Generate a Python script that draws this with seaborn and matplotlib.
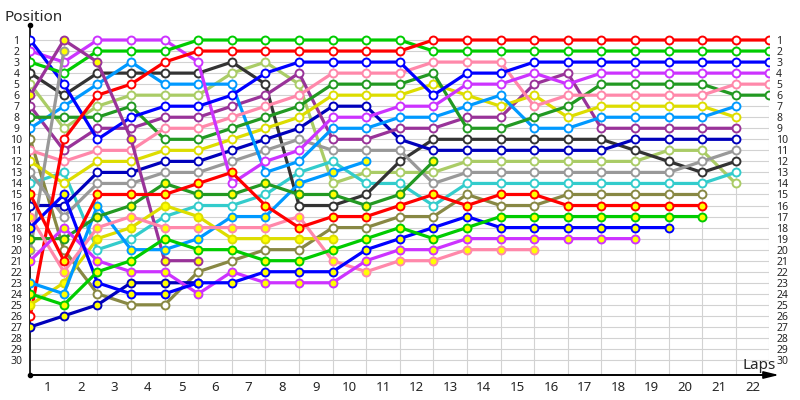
import matplotlib
matplotlib.use("Agg")
import matplotlib.pyplot as plt
import seaborn as sns
import pandas as pd

# ---- data: race position at lap 0 (grid) ... last lap completed ----
red_w     = [26,10,6,5,3,2,2,2,2,2,2,2,1,1,1,1,1,1,1,1,1,1,1]
green_w   = [3,4,2,2,2,1,1,1,1,1,1,1,2,2,2,2,2,2,2,2,2,2,2]
blue_w    = [1,5,10,8,7,7,6,4,3,3,3,3,6,4,4,3,3,3,3,3,3,3,3]
violet_w  = [2,3,1,1,1,3,14,12,11,8,8,7,7,5,5,4,5,4,4,4,4,4,4]
pink_w    = [11,12,11,11,9,9,8,7,6,4,4,4,3,3,3,7,6,6,6,6,6,5,5]
dkgreen_w = [8,8,8,7,10,10,9,8,7,5,5,5,4,9,9,8,7,5,5,5,5,6,6]
ltblue_w  = [9,7,5,3,5,5,5,13,12,9,9,8,8,7,6,9,9,8,8,8,8,7]
yellow_w  = [12,14,12,12,11,11,10,9,8,6,6,6,5,6,7,6,8,7,7,7,7,8]
purple_w  = [7,11,9,9,8,8,7,6,4,10,10,9,9,8,8,5,4,9,9,9,9,9]
dkblue_w  = [16,16,13,13,12,12,11,10,9,7,7,10,11,11,11,11,11,11,10,10,10,10]
gray_w    = [13,17,14,14,13,13,12,11,10,11,11,11,14,13,13,13,13,13,13,13,12,11]
black_w   = [4,6,4,4,4,4,3,5,16,16,15,12,10,10,10,10,10,10,11,12,13,12]
cyan_w    = [14,13,20,19,17,16,16,15,13,12,14,14,16,14,14,14,14,14,14,14,14,13]
ltgreen_w = [5,9,7,6,6,6,4,3,5,14,13,13,13,12,12,12,12,12,12,11,11,14]
olive_w   = [10,20,24,25,25,22,21,20,20,18,18,17,17,15,16,16,15,15,15,15,15]
red_y     = [15,21,15,15,15,14,13,16,18,17,17,16,15,16,15,15,16,16,16,16,16]
green_y   = [24,25,22,21,19,20,20,21,21,20,19,18,19,18,17,17,17,17,17,17,17]
blue_y    = [18,15,23,24,24,23,23,22,22,22,20,19,18,17,18,18,18,18,18,18]
violet_y  = [21,18,21,22,22,24,22,23,23,23,21,20,20,19,19,19,19,19,19]
pink_y    = [17,22,18,17,18,18,18,18,17,21,22,21,21,20,20,20]
dkgreen_y = [19,19,17,16,14,15,15,14,15,15,16,15,12]
ltblue_y  = [23,24,16,20,20,19,17,17,14,13,12]
yellow_y  = [25,23,19,18,16,17,19,19,19,19]
purple_y  = [6,1,3,10,21,21]
dkblue_y  = [27,26,25,23,23,23]
gray_y    = [20,2]

lap_labels = [str(i) for i in range(1, 23)]
pos_labels = [str(i) for i in range(1, 31)]

# team colours and marker fills
team_colors = {
    "red": "#FF0000", "green": "#00CC00", "blue": "#0000FF", "violet": "#CC33FF",
    "pink": "#FF88AA", "dkgreen": "#229922", "ltblue": "#0099FF", "yellow": "#DDDD00",
    "purple": "#993399", "dkblue": "#0000BB", "gray": "#999999", "black": "#333333",
    "cyan": "#33CCCC", "ltgreen": "#AACC66", "olive": "#888844",
}
drivers = [
    ("olive", "white", olive_w), ("ltgreen", "white", ltgreen_w), ("cyan", "white", cyan_w),
    ("black", "white", black_w), ("gray", "white", gray_w), ("dkblue", "white", dkblue_w),
    ("purple", "white", purple_w), ("yellow", "white", yellow_w), ("ltblue", "white", ltblue_w),
    ("dkgreen", "white", dkgreen_w), ("pink", "white", pink_w), ("violet", "white", violet_w),
    ("blue", "white", blue_w), ("green", "white", green_w), ("red", "white", red_w),
    ("gray", "#FFFF00", gray_y), ("dkblue", "#FFFF00", dkblue_y), ("purple", "#FFFF00", purple_y),
    ("yellow", "#FFFF00", yellow_y), ("ltblue", "#FFFF00", ltblue_y), ("dkgreen", "#FFFF00", dkgreen_y),
    ("pink", "#FFFF00", pink_y), ("violet", "#FFFF00", violet_y), ("blue", "#FFFF00", blue_y),
    ("green", "#FFFF00", green_y), ("red", "#FFFF00", red_y),
]

rows = []
for i, (team, face, seq) in enumerate(drivers):
    for lap, p in enumerate(seq):
        rows.append({"driver": i, "team": team, "face": face, "lap": lap, "pos": p})
df = pd.DataFrame(rows)

sns.set_style("white")
plt.rcParams["font.family"] = ["Noto Sans", "DejaVu Sans"]

fig = plt.figure(figsize=(8, 4), dpi=100)
W, H = 800, 400
x0, x1 = 30.3, 769.3
ax = fig.add_axes([x0 / W, 25 / H, (x1 - x0) / W, 350 / H])
ax.set_xlim(0, 22)
ax.set_ylim(31.36, -0.36)

# grid
ax.hlines(range(1, 31), 0, 22, color="#D2D2D2", lw=0.8, zorder=0)
ax.vlines(range(1, 23), 1, 31.36, color="#D2D2D2", lw=0.8, zorder=0)

for i, (team, face, seq) in enumerate(drivers):
    sub = df[df["driver"] == i]
    col = team_colors[team]
    sns.lineplot(data=sub, x="lap", y="pos", ax=ax, color=col, lw=2.3,
                 marker="o", markersize=5.7, markerfacecolor=face,
                 markeredgecolor=col, markeredgewidth=1.4,
                 estimator=None, sort=False, legend=False, zorder=3 + i * 0.01)

ax.set_xlabel("")
ax.set_ylabel("")
for s in ["top", "right"]:
    ax.spines[s].set_visible(False)
ax.spines["left"].set_color("black")
ax.spines["left"].set_linewidth(1.2)
ax.spines["bottom"].set_color("black")
ax.spines["bottom"].set_linewidth(1.2)

ax.set_xticks([k - 0.5 for k in range(1, 23)])
ax.set_xticklabels(lap_labels, fontsize=9.5)
ax.set_yticks(range(1, 31))
ax.set_yticklabels(pos_labels, fontsize=7.5)
ax.tick_params(axis="x", length=0, pad=4)
ax.tick_params(axis="y", length=0, pad=10)
for lab in ax.get_yticklabels():
    lab.set_horizontalalignment("center")

# right-hand position labels
ax2 = ax.secondary_yaxis("right")
ax2.set_yticks(range(1, 31))
ax2.set_yticklabels(pos_labels, fontsize=7.5)
ax2.tick_params(axis="y", length=0, pad=5)
ax2.spines["right"].set_visible(False)

# axis arrow and end dots
ax.annotate("", xy=(779 / W, 25 / H), xytext=(x0 / W, 25 / H), xycoords="figure fraction",
            textcoords="figure fraction",
            arrowprops=dict(arrowstyle="-|>,head_length=0.9,head_width=0.22",
                            color="black", lw=1.2, shrinkA=0, shrinkB=0))
ax.plot([0, 0], [0, 1], "o", transform=ax.transAxes, clip_on=False,
        color="black", ms=3, zorder=10)

fig.text(5 / W, 1 - 21 / H, "Position", fontsize=11, va="baseline", ha="left")
fig.text(743 / W, 1 - 369 / H, "Laps", fontsize=11, va="baseline", ha="left")

fig.savefig("out.png", dpi=100, facecolor="white")
